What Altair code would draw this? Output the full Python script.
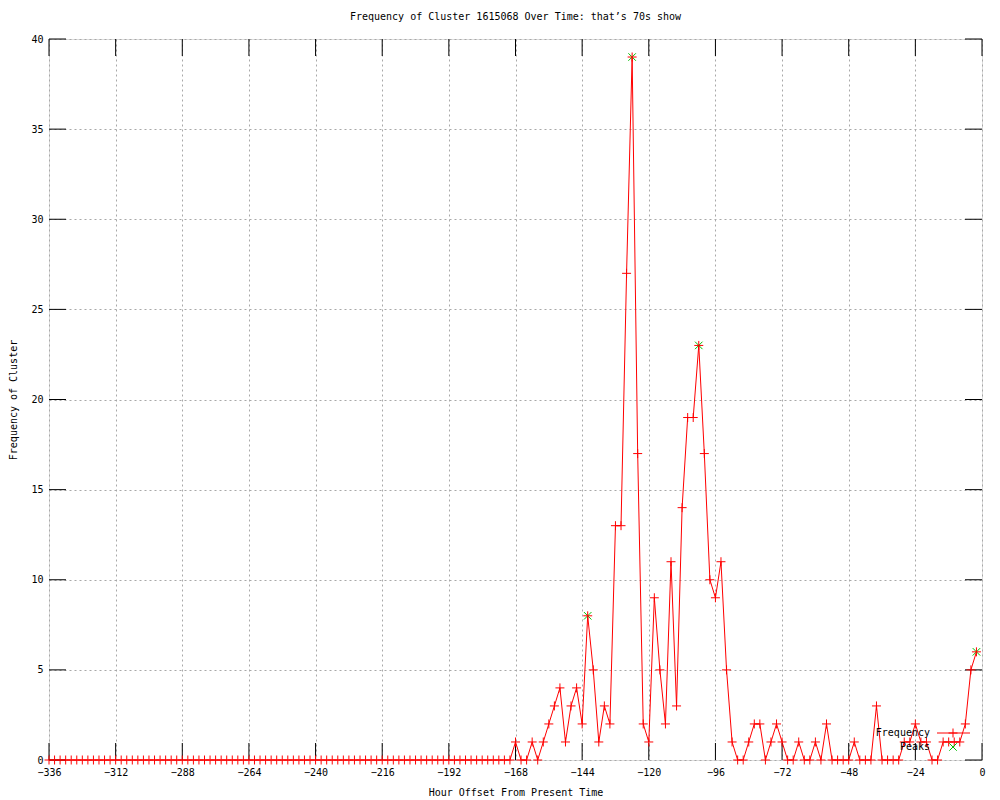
import altair as alt
import pandas as pd

# ---- data ----
hours = list(range(-336, 0, 2))
freq = [
    # -336 .. -170
    0, 0, 0, 0, 0, 0, 0, 0, 0, 0, 0, 0, 0, 0, 0, 0, 0, 0, 0, 0, 0,
    0, 0, 0, 0, 0, 0, 0, 0, 0, 0, 0, 0, 0, 0, 0, 0, 0, 0, 0, 0, 0,
    0, 0, 0, 0, 0, 0, 0, 0, 0, 0, 0, 0, 0, 0, 0, 0, 0, 0, 0, 0, 0,
    0, 0, 0, 0, 0, 0, 0, 0, 0, 0, 0, 0, 0, 0, 0, 0, 0, 0, 0, 0, 0,
    # -168 .. -134
    1, 0, 0, 1, 0, 1, 2, 3, 4, 1, 3, 4, 2, 8, 5, 1, 3, 2,
    # -132 .. -100
    13, 13, 27, 39, 17, 2, 1, 9, 5, 2, 11, 3, 14, 19, 19, 23, 17,
    # -98 .. -68
    10, 9, 11, 5, 1, 0, 0, 1, 2, 2, 0, 1, 2, 1, 0, 0,
    # -66 .. -36
    1, 0, 0, 1, 0, 2, 0, 0, 0, 0, 1, 0, 0, 0, 3, 0,
    # -34 .. -2
    0, 0, 0, 1, 1, 2, 1, 1, 0, 0, 1, 1, 1, 1, 2, 5, 6,
]
peak_hours = [-142, -126, -102, -2]
peak_values = [8, 39, 23, 6]
x_ticks = [-336, -312, -288, -264, -240, -216, -192, -168, -144, -120, -96, -72, -48, -24, 0]
y_ticks = [0, 5, 10, 15, 20, 25, 30, 35, 40]
legend_labels = ["Frequency", "Peaks"]

TITLE = "Frequency of Cluster 1615068 Over Time: that\u2019s 70s show"
X_TITLE = "Hour Offset From Present Time"
Y_TITLE = "Frequency of Cluster"

# ---- style ----
W, H = 933, 721
FONT = "DejaVu Sans Mono"
RED = "#ff0000"
GREEN = "#00c000"
GRID = "#a8a8a8"
TICK = 17
PLUS = "M-1,0H1M0,-1V1"
CROSS = "M-1,-1L1,1M-1,1L1,-1"

df = pd.DataFrame({"hour": hours, "freq": freq})
pk = pd.DataFrame({"hour": peak_hours, "freq": peak_values})
xt = pd.DataFrame({"t": x_ticks})
yt = pd.DataFrame({"t": y_ticks})

xscale = alt.Scale(domain=[-336, 0], nice=False, zero=False)
yscale = alt.Scale(domain=[0, 40], nice=False, zero=False)

xaxis = alt.Axis(
    values=x_ticks, title=X_TITLE, grid=True, gridColor=GRID, gridDash=[2, 3],
    gridWidth=1, ticks=False, domain=False, labelFont=FONT, labelFontSize=10,
    labelColor="black", labelPadding=7, labelFlush=False, labelOverlap=False,
    labelBound=False, titleFont=FONT, titleFontSize=10, titleFontWeight="normal",
    titleColor="black", titlePadding=10, format="d",
)
yaxis = alt.Axis(
    values=y_ticks, title=Y_TITLE, grid=True, gridColor=GRID, gridDash=[2, 3],
    gridWidth=1, ticks=False, domain=False, labelFont=FONT, labelFontSize=10,
    labelColor="black", labelPadding=6, labelFlush=False, labelOverlap=False,
    titleFont=FONT, titleFontSize=10, titleFontWeight="normal",
    titleColor="black", titlePadding=12, format="d",
)

X = lambda f: alt.X(f, scale=xscale, axis=xaxis, title=X_TITLE)
Y = lambda f: alt.Y(f, scale=yscale, axis=yaxis, title=Y_TITLE)

line = alt.Chart(df).mark_line(color=RED, strokeWidth=1).encode(
    x=X("hour:Q"), y=Y("freq:Q")
)
peaks = alt.Chart(pk).mark_point(
    shape=CROSS, size=56, filled=False, color=GREEN, strokeWidth=1, opacity=1
).encode(x=X("hour:Q"), y=Y("freq:Q"))
pts = alt.Chart(df).mark_point(
    shape=PLUS, size=81, filled=False, color=RED, strokeWidth=1, opacity=1
).encode(x=X("hour:Q"), y=Y("freq:Q"))

tick_bottom = alt.Chart(xt).mark_rule(color="black", strokeWidth=1).encode(
    x=X("t:Q"), y=alt.value(H), y2=alt.value(H - TICK)
)
tick_top = alt.Chart(xt).mark_rule(color="black", strokeWidth=1).encode(
    x=X("t:Q"), y=alt.value(0), y2=alt.value(TICK)
)
tick_left = alt.Chart(yt).mark_rule(color="black", strokeWidth=1).encode(
    y=Y("t:Q"), x=alt.value(0), x2=alt.value(TICK)
)
tick_right = alt.Chart(yt).mark_rule(color="black", strokeWidth=1).encode(
    y=Y("t:Q"), x=alt.value(W - TICK), x2=alt.value(W)
)

# ---- in-plot key (gnuplot style: label on the left, sample on the right) ----
LX, LY1, LY2 = 881, 694, 708
key_text1 = alt.Chart(pd.DataFrame({"label": legend_labels[:1]})).mark_text(
    align="right", baseline="middle", font=FONT, fontSize=10, color="black"
).encode(text="label:N", x=alt.value(LX), y=alt.value(LY1))
key_text2 = alt.Chart(pd.DataFrame({"label": legend_labels[1:]})).mark_text(
    align="right", baseline="middle", font=FONT, fontSize=10, color="black"
).encode(text="label:N", x=alt.value(LX), y=alt.value(LY2))
key_line = alt.Chart(pd.DataFrame({"label": legend_labels[:1]})).mark_rule(
    color=RED, strokeWidth=1
).encode(x=alt.value(LX + 7), x2=alt.value(LX + 40), y=alt.value(LY1))
key_plus = alt.Chart(pd.DataFrame({"label": legend_labels[:1]})).mark_point(
    shape=PLUS, size=81, filled=False, color=RED, strokeWidth=1, opacity=1
).encode(x=alt.value(LX + 23), y=alt.value(LY1))
key_cross = alt.Chart(pd.DataFrame({"label": legend_labels[1:]})).mark_point(
    shape=CROSS, size=56, filled=False, color=GREEN, strokeWidth=1, opacity=1
).encode(x=alt.value(LX + 23), y=alt.value(LY2))

chart = alt.layer(
    line, tick_bottom, tick_top, tick_left, tick_right, peaks, pts,
    key_text1, key_text2, key_line, key_plus, key_cross,
).properties(
    width=W,
    height=H,
    autosize=alt.AutoSizeParams(type="none"),
    padding={"left": 41, "top": 31, "right": 10, "bottom": 40},
    title=alt.TitleParams(
        TITLE, font=FONT, fontSize=10, fontWeight="normal", color="black",
        anchor="middle", offset=12,
    ),
).configure_view(stroke="black", strokeWidth=1).configure(background="white")

chart.save("out.html", embed_options={"renderer": "svg", "actions": False})
